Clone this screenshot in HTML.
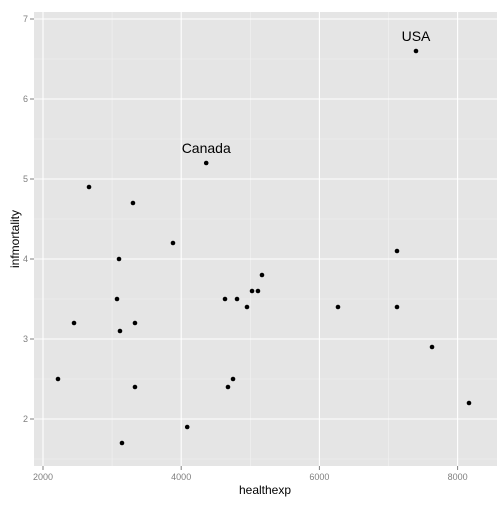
<!DOCTYPE html>
<html><head><meta charset="utf-8"><style>
body{margin:0;background:#fff;}
svg text{font-family:"Liberation Sans",sans-serif;}
</style></head><body>
<svg id="chart" width="504" height="504">
<rect x="34" y="12" width="463" height="454" fill="#E5E5E5"/>
<g id="grid"></g><g id="ticks"></g><g id="pts"></g><g id="labels"></g>
<text x="265" y="494" text-anchor="middle" font-size="12" fill="#000">healthexp</text>
<text x="19" y="239" text-anchor="middle" font-size="12" fill="#000" transform="rotate(-90 19 239)">infmortality</text>
</svg>
<script>
const healthexp=[2217,2666,2449,3071,3100,3114,3143,3302,3331,3331,3881,4087,4362,4634,4677,4750,4808,4952,5025,5111,5169,6269,7123,7123,7398,7630,8165];
const infmortality=[2.5,4.9,3.2,3.5,4.0,3.1,1.7,4.7,3.2,2.4,4.2,1.9,5.2,3.5,2.4,2.5,3.5,3.4,3.6,3.6,3.8,3.4,4.1,3.4,6.6,2.9,2.2];
const xTicks=[2000,4000,6000,8000];
const yTicks=[2,3,4,5,6,7];
const xMinor=[3000,5000,7000];
const yMinor=[1.5,2.5,3.5,4.5,5.5,6.5];
const annotations=[{label:"Canada",x:4362,y:5.2},{label:"USA",x:7398,y:6.6}];
const L=34,R=497,T=12,B=466;
const xs=v=>43+(v-2000)*69.1/1000;
const ys=v=>19+(7-v)*80;
const ns="http://www.w3.org/2000/svg";
function mk(t,a,p){const e=document.createElementNS(ns,t);for(const k in a)e.setAttribute(k,a[k]);p.appendChild(e);return e;}
const g=document.getElementById('grid'),tk=document.getElementById('ticks'),pg=document.getElementById('pts'),lg=document.getElementById('labels');
xMinor.forEach(v=>{const e=mk('line',{x1:xs(v),x2:xs(v),y1:T,y2:B,stroke:'#F2F2F2','stroke-width':0.6},g);

});
yMinor.forEach(v=>{const e=mk('line',{x1:L,x2:R,y1:ys(v),y2:ys(v),stroke:'#F2F2F2','stroke-width':0.6},g);

});
xTicks.forEach(v=>{const e=mk('line',{x1:xs(v),x2:xs(v),y1:T,y2:B,stroke:'#fff','stroke-width':1.1},g);


const m=mk('line',{x1:xs(v),x2:xs(v),y1:B,y2:B+4,stroke:'#7F7F7F'},tk);


const t=mk('text',{x:xs(v),y:B+14,'text-anchor':'middle','font-size':9,fill:'#7F7F7F'},tk);t.textContent=v;

});
yTicks.forEach(v=>{const e=mk('line',{x1:L,x2:R,y1:ys(v),y2:ys(v),stroke:'#fff','stroke-width':1.1},g);


const m=mk('line',{x1:L-4,x2:L,y1:ys(v),y2:ys(v),stroke:'#7F7F7F'},tk);


const t=mk('text',{x:L-6,y:ys(v)+3,'text-anchor':'end','font-size':9,fill:'#7F7F7F'},tk);t.textContent=v;

});
healthexp.forEach((v,i)=>{const c=mk('circle',{cx:xs(v),cy:ys(infmortality[i]),r:2.3,fill:'#000'},pg);

});
annotations.forEach(a=>{const t=mk('text',{x:xs(a.x),y:ys(a.y)-10,'text-anchor':'middle','font-size':14,fill:'#000'},lg);t.textContent=a.label;

});
</script>
</body></html>
